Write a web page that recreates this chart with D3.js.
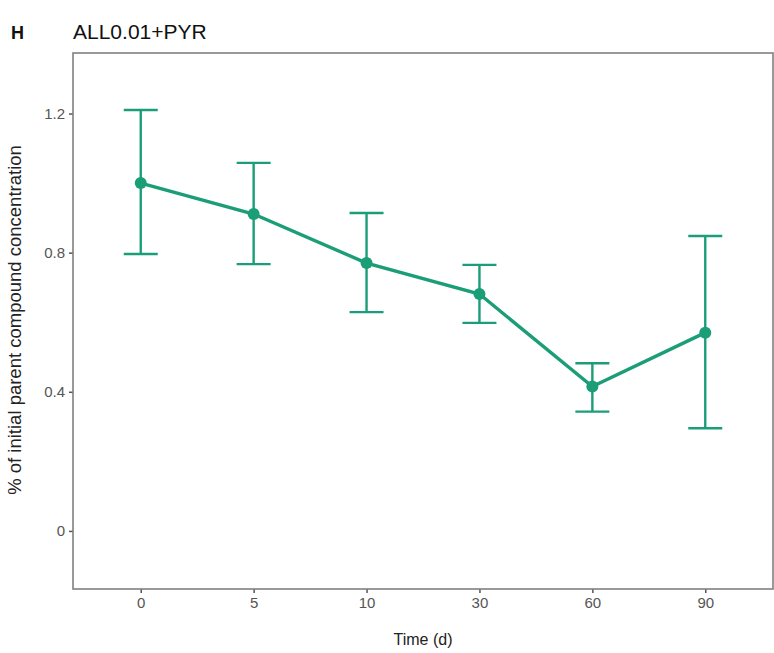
<!DOCTYPE html>
<html><head><meta charset="utf-8">
<script src="https://cdn.jsdelivr.net/npm/d3@7"></script>
<style>body{margin:0;background:#fff}</style>
</head><body>
<script>
const categories = ["0","5","10","30","60","90"];
const means = [1.0, 0.911, 0.770, 0.681, 0.415, 0.570];
const upper = [1.21, 1.058, 0.914, 0.765, 0.482, 0.848];
const lower = [0.796, 0.767, 0.629, 0.598, 0.343, 0.295];
const yTicks = [0, 0.4, 0.8, 1.2];
const title = "ALL0.01+PYR";
const panelTag = "H";
const xLabel = "Time (d)";
const yLabel = "% of initial parent compound concentration";

const W = 774, H = 653;
const m = {left:73, top:53, right:1, bottom:64};
const color = "#1b9e77";
const svg = d3.select("body").append("svg").attr("width",W).attr("height",H);
const pw = W - m.left - m.right, ph = H - m.top - m.bottom;
const g = svg.append("g").attr("transform",`translate(${m.left},${m.top})`);

const x = d3.scalePoint().domain(categories).range([0,pw]).padding(0.6);
const y = d3.scaleLinear().domain([-0.167,1.374]).range([ph,0]);

const data = categories.map((c,i)=>({c, m:means[i], u:upper[i], l:lower[i]}));
const ff = "Liberation Sans, Arial, sans-serif";

// axes
const xa = g.append("g").attr("transform",`translate(0,${ph})`)
  .call(d3.axisBottom(x).tickSize(4).tickPadding(4));
const ya = g.append("g").call(d3.axisLeft(y).tickValues(yTicks).tickSize(4).tickPadding(4)
  .tickFormat(d=> d===0 ? "0" : d3.format(".1f")(d)));
[xa,ya].forEach(a=>{
  a.select(".domain").remove();
  a.selectAll(".tick line").attr("stroke","#555").attr("stroke-width",1.5);
  a.selectAll(".tick text").attr("fill","#555").style("font-family",ff).style("font-size","15px");
});
// panel border
g.append("rect").attr("x",0).attr("y",0).attr("width",pw).attr("height",ph)
  .attr("fill","none").attr("stroke","#808080").attr("stroke-width",1.6);

// error bars
const cw = 17;
const eb = g.append("g").attr("stroke",color).attr("stroke-width",2.4).attr("fill","none");
data.forEach(d=>{
  const cx = x(d.c);
  eb.append("line").attr("x1",cx).attr("x2",cx).attr("y1",y(d.u)).attr("y2",y(d.l));
  eb.append("line").attr("x1",cx-cw).attr("x2",cx+cw).attr("y1",y(d.u)).attr("y2",y(d.u));
  eb.append("line").attr("x1",cx-cw).attr("x2",cx+cw).attr("y1",y(d.l)).attr("y2",y(d.l));
});
// line
g.append("path").datum(data)
  .attr("d", d3.line().x(d=>x(d.c)).y(d=>y(d.m)))
  .attr("fill","none").attr("stroke",color).attr("stroke-width",3.4);
g.selectAll("circle.pt").data(data).join("circle").attr("class","pt")
  .attr("cx",d=>x(d.c)).attr("cy",d=>y(d.m)).attr("r",6).attr("fill",color);

// texts
svg.append("text").attr("x",11).attr("y",39).text(panelTag)
  .style("font-family",ff).style("font-weight","bold").style("font-size","18px").attr("fill","#111");
svg.append("text").attr("x",73).attr("y",39).text(title)
  .style("font-family",ff).style("font-size","21px").attr("fill","#111");
svg.append("text").attr("x",m.left+pw/2).attr("y",645).attr("text-anchor","middle").text(xLabel)
  .style("font-family",ff).style("font-size","16px").attr("fill","#222");
svg.append("text").attr("transform",`translate(21,320) rotate(-90)`).attr("text-anchor","middle").text(yLabel)
  .style("font-family",ff).style("font-size","18.5px").attr("fill","#222");
</script>
</body></html>
